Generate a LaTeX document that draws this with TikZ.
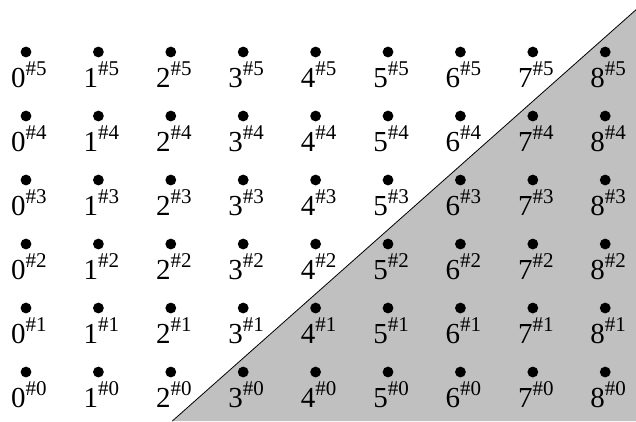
\documentclass[tikz,border=0pt]{standalone}
\usepackage{fontspec}
\setmainfont{Liberation Serif}
\usepackage{tikz}
\usetikzlibrary{positioning,calc}
\definecolor{cutgray}{HTML}{C0C0C0}
\newcommand{\idx}[2]{#1\raisebox{0.4em}{\fontsize{10.5}{10.5}\selectfont\#{}#2}}

\begin{document}
\begin{tikzpicture}[x=36.2pt,y=32pt,every node/.style={font=\fontsize{14.5}{14.5}\selectfont}]
      \tikzstyle{pt}=[circle,fill=black,minimum size=5.4pt,inner sep=0pt];
      \tikzstyle{lbl}=[inner sep=0pt,anchor=base];
      \useasboundingbox (-0.359,-0.766) rectangle (8.425,5.8125);
      % shaded half plane below the cut
      \coordinate (cutlow)  at (2.02,-0.766);
      \coordinate (cuthigh) at (8.425,5.66);
      \coordinate (corner)  at (8.425,-0.766);
      \fill[cutgray] (cutlow) -- (cuthigh) -- (corner) -- cycle;
      \draw[thin] (cutlow) -- (cuthigh);
      % grid of points
      \foreach \i in {0,...,8}{
        \foreach \j in {0,...,5}{
          \node[pt] (d\i\j) at (\i,\j) {};
          \node[lbl] (t\i\j) at ([xshift=1.5pt,yshift=-17.5pt]d\i\j.center) {\idx{\i}{\j}};
        }
      }
    \end{tikzpicture}
\end{document}
